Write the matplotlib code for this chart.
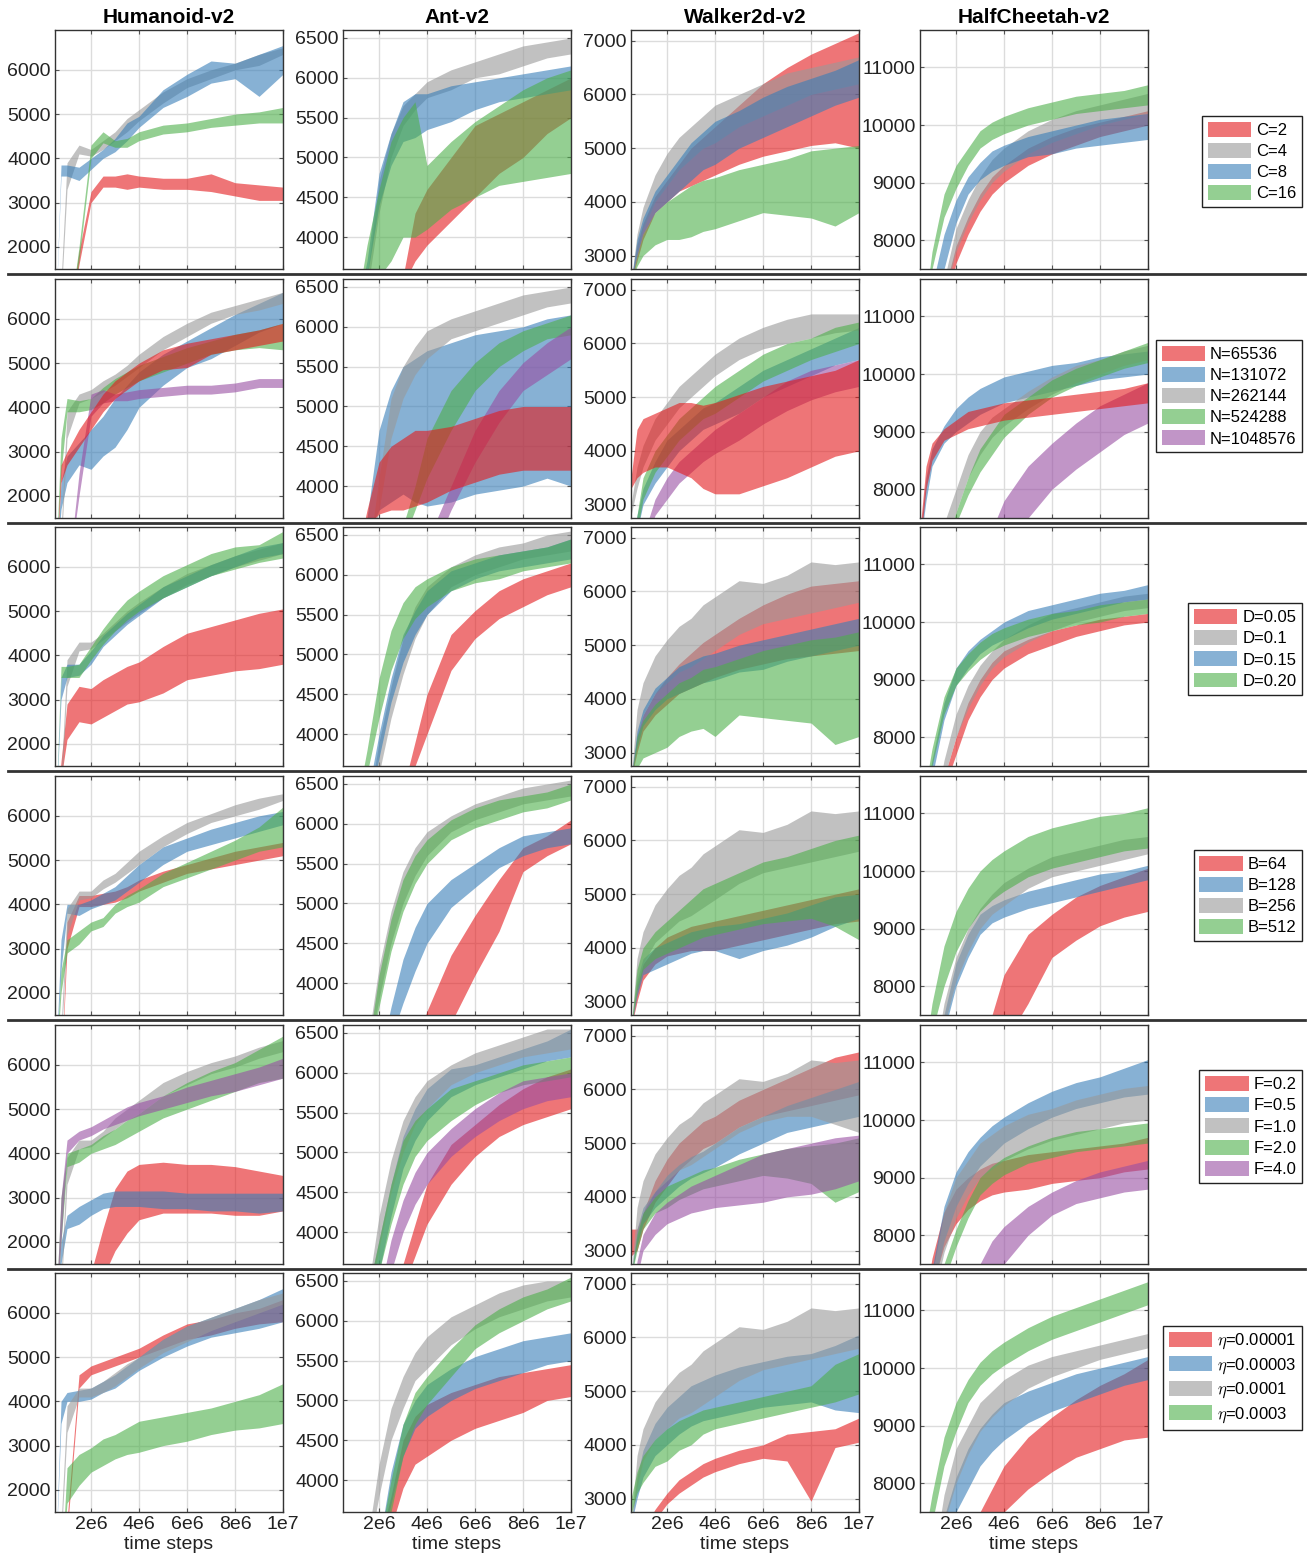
import matplotlib.pyplot as plt
from matplotlib.patches import Patch
from matplotlib.lines import Line2D

plt.rcParams['font.family'] = ['Liberation Sans', 'DejaVu Sans']
plt.rcParams['mathtext.fontset'] = 'cm'

X = [0.5e6, 0.75e6, 1e6, 1.5e6, 2e6, 2.5e6, 3e6, 3.5e6, 4e6, 5e6, 6e6, 7e6, 8e6, 9e6, 1e7]

ENVS = ['Humanoid-v2', 'Ant-v2', 'Walker2d-v2', 'HalfCheetah-v2']
YLIMS = [(1500, 6900), (3600, 6600), (2750, 7200), (7500, 11650)]
YTICKS = [[2000, 3000, 4000, 5000, 6000],
          [4000, 4500, 5000, 5500, 6000, 6500],
          [3000, 4000, 5000, 6000, 7000],
          [8000, 9000, 10000, 11000]]
XTICKS = [2e6, 4e6, 6e6, 8e6, 1e7]
XTICKLABELS = ['2e6', '4e6', '6e6', '8e6', '1e7']

RED, BLUE, GREEN, PURPLE, GRAY = '#e41a1c', '#377eb8', '#4daf4a', '#984ea3', '#999999'

# ---------------- row 1: C ----------------
c_labels = ['C=2', 'C=4', 'C=8', 'C=16']
c_colors = [RED, GRAY, BLUE, GREEN]
c_hum = {
    'C=2': ([0, 0, 0, 1600, 3000, 3350, 3350, 3300, 3350, 3300, 3300, 3250, 3150, 3050, 3050],
            [0, 0, 0, 1900, 3250, 3600, 3600, 3650, 3600, 3550, 3550, 3650, 3450, 3400, 3350]),
    'C=4': ([0, 800, 3300, 4100, 4050, 4200, 4400, 4600, 4850, 5250, 5600, 5800, 6000, 6100, 6350],
            [0, 1200, 3900, 4300, 4200, 4400, 4600, 4900, 5100, 5500, 5800, 6000, 6150, 6350, 6500]),
    'C=8': ([0, 3600, 3600, 3500, 3750, 4000, 4150, 4400, 4700, 5150, 5400, 5700, 5800, 5400, 5900],
            [0, 3850, 3850, 3800, 4000, 4200, 4450, 4800, 4950, 5550, 5900, 6200, 6150, 6350, 6550]),
    'C=16': ([0, 0, 0, 1700, 4000, 4350, 4250, 4250, 4400, 4550, 4600, 4700, 4750, 4800, 4800],
             [0, 0, 0, 2000, 4300, 4600, 4400, 4450, 4600, 4750, 4800, 4900, 5000, 5050, 5150]),
}
c_ant = {
    'C=2': ([3000, 3000, 3000, 3000, 3000, 3000, 3400, 3700, 3900, 4200, 4500, 4800, 5000, 5300, 5500],
            [3000, 3000, 3000, 3000, 3000, 3000, 3500, 4300, 4600, 5000, 5400, 5550, 5700, 5850, 6000]),
    'C=4': ([3000, 3000, 3000, 3300, 4300, 5000, 5400, 5600, 5750, 5850, 6000, 6050, 6150, 6250, 6300],
            [3000, 3000, 3000, 3500, 4700, 5300, 5650, 5800, 5950, 6100, 6200, 6300, 6400, 6450, 6500]),
    'C=8': ([3000, 3000, 3000, 3500, 4400, 4900, 5200, 5250, 5350, 5450, 5600, 5700, 5750, 5800, 5850],
            [3000, 3000, 3000, 3700, 4800, 5300, 5700, 5800, 5800, 5900, 5950, 6000, 6050, 6100, 6150]),
    'C=16': ([3000, 3000, 3000, 3300, 3500, 3700, 4000, 4000, 4100, 4350, 4500, 4650, 4700, 4750, 4800],
             [3000, 3000, 3000, 3900, 4600, 5200, 5500, 5700, 4900, 5200, 5450, 5650, 5850, 6000, 6100]),
}
c_walk = {
    'C=2': ([2500, 2900, 3300, 3800, 4000, 4200, 4300, 4400, 4500, 4700, 4850, 4950, 5050, 5100, 5000],
            [2500, 3200, 3600, 4100, 4400, 4700, 5000, 5200, 5400, 5800, 6200, 6500, 6750, 6950, 7150]),
    'C=4': ([2500, 3000, 3500, 4000, 4300, 4600, 4800, 5000, 5100, 5400, 5600, 5800, 6000, 6100, 6200],
            [2500, 3400, 3900, 4500, 4900, 5200, 5400, 5600, 5800, 6000, 6200, 6400, 6500, 6600, 6700]),
    'C=8': ([2500, 3000, 3400, 3800, 4000, 4200, 4400, 4600, 4700, 5000, 5200, 5400, 5600, 5800, 5950],
            [2500, 3300, 3700, 4200, 4500, 4800, 5100, 5300, 5500, 5700, 5950, 6150, 6300, 6450, 6650]),
    'C=16': ([2500, 2800, 3000, 3200, 3300, 3300, 3350, 3450, 3500, 3650, 3800, 3750, 3700, 3550, 3800],
             [2500, 3000, 3400, 3800, 4000, 4150, 4300, 4400, 4450, 4600, 4700, 4800, 4950, 5000, 5050]),
}
c_cheet = {
    'C=2': ([6000, 6000, 6000, 6800, 7600, 8100, 8500, 8800, 9000, 9300, 9500, 9650, 9800, 9900, 10000],
            [6000, 6000, 6000, 7100, 7900, 8400, 8800, 9100, 9300, 9600, 9800, 9950, 10050, 10150, 10250]),
    'C=4': ([6000, 6000, 6000, 7000, 7800, 8300, 8700, 9000, 9200, 9500, 9700, 9850, 10000, 10100, 10200],
            [6000, 6000, 6200, 7300, 8200, 8700, 9100, 9400, 9600, 9900, 10100, 10250, 10350, 10450, 10550]),
    'C=8': ([6000, 6000, 6500, 7500, 8300, 8800, 9050, 9200, 9300, 9450, 9500, 9600, 9650, 9700, 9750],
            [6000, 6500, 7200, 8100, 8700, 9100, 9350, 9550, 9650, 9800, 9900, 10000, 10100, 10150, 10200]),
    'C=16': ([6000, 6800, 7500, 8400, 8900, 9300, 9600, 9750, 9850, 10000, 10100, 10200, 10250, 10300, 10350],
             [6000, 7000, 7800, 8800, 9300, 9600, 9900, 10050, 10150, 10300, 10400, 10500, 10550, 10600, 10700]),
}

# ---------------- row 2: N ----------------
n_labels = ['N=65536', 'N=131072', 'N=262144', 'N=524288', 'N=1048576']
n_colors = [RED, BLUE, GRAY, GREEN, PURPLE]
n_hum = {
    'N=65536': ([0, 2300, 2700, 3100, 3500, 3900, 4200, 4400, 4600, 4850, 4900, 5200, 5300, 5400, 5500],
                [0, 2700, 3000, 3500, 3900, 4300, 4600, 4800, 5000, 5300, 5450, 5550, 5650, 5750, 5900]),
    'N=131072': ([0, 1700, 2300, 2700, 2600, 2900, 3100, 3500, 4000, 4500, 4900, 5100, 5400, 5700, 5900],
                 [0, 2300, 2900, 3200, 3500, 3800, 4200, 4500, 4800, 5200, 5500, 5800, 6100, 6350, 6600]),
    'N=262144': ([0, 800, 3300, 4100, 4200, 4350, 4500, 4700, 4900, 5300, 5600, 5900, 6100, 6200, 6350],
                 [0, 1200, 3900, 4300, 4400, 4600, 4750, 4950, 5200, 5600, 5900, 6150, 6300, 6450, 6600]),
    'N=524288': ([0, 2500, 3900, 3900, 3950, 4100, 4300, 4450, 4600, 4800, 5000, 5200, 5300, 5350, 5300],
                 [0, 3300, 4200, 4150, 4200, 4450, 4650, 4800, 4950, 5150, 5350, 5500, 5650, 5750, 5900]),
    'N=1048576': ([0, 0, 0, 2000, 3800, 4100, 4150, 4150, 4200, 4250, 4300, 4300, 4350, 4450, 4450],
                  [0, 0, 0, 2500, 4300, 4400, 4300, 4350, 4400, 4450, 4500, 4500, 4550, 4650, 4650]),
}
n_ant = {
    'N=65536': ([3000, 3000, 3000, 3500, 3650, 3700, 3700, 3750, 3800, 3950, 4050, 4150, 4200, 4200, 4200],
                [3000, 3000, 3000, 3700, 4300, 4500, 4600, 4700, 4700, 4750, 4850, 4950, 5000, 5000, 5000]),
    'N=131072': ([3000, 3000, 3000, 3400, 3700, 3800, 3900, 3800, 3750, 3800, 3900, 3950, 4000, 4100, 4000],
                 [3000, 3000, 3000, 3600, 4700, 5200, 5500, 5600, 5700, 5800, 5900, 5950, 6000, 6100, 6150]),
    'N=262144': ([3000, 3000, 3000, 3000, 3700, 4600, 5100, 5400, 5600, 5850, 5950, 6050, 6150, 6250, 6300],
                 [3000, 3000, 3000, 3000, 4100, 5100, 5500, 5750, 5950, 6100, 6200, 6300, 6400, 6450, 6500]),
    'N=524288': ([3000, 3000, 3000, 3000, 3000, 3000, 3300, 3700, 4100, 4700, 5200, 5500, 5700, 5850, 5900],
                 [3000, 3000, 3000, 3000, 3000, 3000, 3500, 4000, 4600, 5200, 5550, 5800, 5950, 6050, 6150]),
    'N=1048576': ([3000, 3000, 3000, 3000, 3000, 3000, 3000, 3000, 3000, 3700, 4300, 4800, 5200, 5400, 5600],
                  [3000, 3000, 3000, 3000, 3000, 3000, 3000, 3000, 3300, 4000, 4700, 5200, 5550, 5800, 6000]),
}
n_walk = {
    'N=65536': ([3300, 3500, 3600, 3700, 3700, 3600, 3500, 3300, 3200, 3200, 3350, 3500, 3700, 3900, 4000],
                [3500, 4400, 4600, 4700, 4800, 4900, 4900, 4850, 4900, 5050, 5200, 5300, 5400, 5500, 5700]),
    'N=131072': ([2000, 2500, 3000, 3400, 3700, 4000, 4200, 4400, 4500, 4700, 5000, 5200, 5400, 5600, 5700],
                 [2000, 2800, 3300, 3800, 4200, 4400, 4600, 4800, 4900, 5200, 5500, 5700, 5900, 6100, 6300]),
    'N=262144': ([2800, 3300, 3700, 4200, 4500, 4800, 5000, 5200, 5400, 5700, 5900, 6000, 6100, 6200, 6250],
                 [3000, 3700, 4100, 4600, 4900, 5200, 5400, 5600, 5800, 6100, 6300, 6450, 6550, 6550, 6550]),
    'N=524288': ([2000, 2500, 3100, 3600, 3900, 4200, 4400, 4600, 4700, 5000, 5300, 5500, 5700, 5850, 6000],
                 [2000, 2800, 3500, 4000, 4300, 4600, 4800, 5000, 5200, 5500, 5800, 6000, 6100, 6300, 6400]),
    'N=1048576': ([2000, 2000, 2200, 2800, 3100, 3400, 3600, 3800, 3950, 4200, 4500, 4750, 4950, 5100, 5200],
                  [2000, 2000, 2400, 3100, 3500, 3800, 4000, 4200, 4400, 4700, 5000, 5300, 5500, 5600, 5700]),
}
n_cheet = {
    'N=65536': ([7000, 8000, 8500, 8850, 8950, 9050, 9100, 9150, 9200, 9250, 9300, 9350, 9400, 9450, 9500],
                [7300, 8400, 8800, 9050, 9200, 9350, 9400, 9450, 9500, 9550, 9600, 9650, 9700, 9750, 9850]),
    'N=131072': ([7000, 7800, 8400, 8800, 9000, 9150, 9300, 9400, 9500, 9600, 9700, 9800, 9900, 9950, 10000],
                 [7200, 8200, 8700, 9100, 9400, 9600, 9750, 9850, 9950, 10050, 10150, 10200, 10300, 10350, 10400]),
    'N=262144': ([6500, 6500, 6500, 7000, 7600, 8200, 8600, 8900, 9100, 9400, 9650, 9850, 10000, 10150, 10250],
                 [6500, 6500, 6500, 7400, 8000, 8600, 9000, 9250, 9400, 9700, 9950, 10150, 10250, 10400, 10500]),
    'N=524288': ([6500, 6500, 6500, 6800, 7400, 7900, 8300, 8600, 8900, 9300, 9600, 9800, 9950, 10100, 10200],
                 [6500, 6500, 6500, 7000, 7600, 8200, 8700, 9000, 9300, 9600, 9900, 10100, 10250, 10400, 10550]),
    'N=1048576': ([6000, 6000, 6000, 6000, 6000, 6000, 6000, 6500, 7000, 7500, 8000, 8350, 8650, 8950, 9150],
                  [6000, 6000, 6000, 6000, 6000, 6000, 6000, 7300, 7800, 8400, 8800, 9150, 9450, 9650, 9850]),
}

# ---------------- row 3: D ----------------
d_labels = ['D=0.05', 'D=0.1', 'D=0.15', 'D=0.20']
d_colors = [RED, GRAY, BLUE, GREEN]
d_hum = {
    'D=0.05': ([0, 1200, 2100, 2500, 2450, 2600, 2750, 2900, 2950, 3150, 3450, 3550, 3650, 3700, 3800],
               [0, 1600, 2900, 3300, 3250, 3450, 3600, 3750, 3850, 4200, 4500, 4650, 4800, 4950, 5050]),
    'D=0.1': ([0, 800, 3300, 4100, 4150, 4350, 4550, 4750, 4950, 5300, 5600, 5800, 6000, 6150, 6300],
              [0, 1200, 3900, 4300, 4300, 4500, 4750, 5000, 5200, 5550, 5850, 6050, 6250, 6400, 6550]),
    'D=0.15': ([0, 3000, 3500, 3550, 3800, 4200, 4450, 4700, 4900, 5300, 5550, 5800, 6000, 6200, 6300],
               [0, 3500, 3800, 3800, 4100, 4450, 4700, 4950, 5150, 5550, 5800, 6050, 6250, 6450, 6550]),
    'D=0.20': ([0, 3500, 3500, 3500, 3900, 4250, 4550, 4800, 5000, 5300, 5550, 5800, 5950, 6100, 6200],
               [0, 3750, 3750, 3800, 4200, 4600, 4950, 5250, 5450, 5800, 6050, 6300, 6450, 6500, 6800]),
}
d_ant = {
    'D=0.05': ([3000, 3000, 3000, 3000, 3000, 3000, 3100, 3600, 4000, 4800, 5200, 5450, 5600, 5750, 5850],
               [3000, 3000, 3000, 3000, 3000, 3000, 3300, 3900, 4500, 5250, 5550, 5800, 5950, 6050, 6150]),
    'D=0.1': ([3000, 3000, 3000, 3000, 3500, 4200, 4750, 5200, 5500, 5850, 6000, 6100, 6200, 6250, 6300],
              [3000, 3000, 3000, 3000, 3900, 4600, 5200, 5600, 5850, 6100, 6250, 6350, 6400, 6500, 6550]),
    'D=0.15': ([3000, 3000, 3000, 3000, 3700, 4400, 4900, 5250, 5500, 5800, 5950, 6050, 6100, 6150, 6200],
               [3000, 3000, 3000, 3200, 4000, 4700, 5250, 5550, 5800, 6050, 6150, 6250, 6300, 6350, 6450]),
    'D=0.20': ([3000, 3000, 3000, 3500, 4200, 4800, 5200, 5450, 5600, 5800, 5900, 5950, 6050, 6100, 6150],
               [3000, 3000, 3000, 3800, 4700, 5300, 5650, 5850, 5950, 6100, 6200, 6250, 6300, 6350, 6450]),
}
d_walk = {
    'D=0.05': ([2500, 3000, 3400, 3700, 3900, 4100, 4200, 4300, 4400, 4550, 4650, 4750, 4800, 4850, 4900],
               [2500, 3300, 3700, 4100, 4400, 4650, 4850, 5050, 5200, 5500, 5750, 5950, 6100, 6150, 6200]),
    'D=0.1': ([2500, 3200, 3700, 4100, 4300, 4500, 4600, 4750, 4900, 5200, 5400, 5500, 5600, 5700, 5800],
              [2500, 3800, 4300, 4800, 5100, 5350, 5500, 5750, 5900, 6200, 6150, 6300, 6550, 6500, 6550]),
    'D=0.15': ([2500, 3100, 3500, 3800, 4000, 4100, 4200, 4300, 4350, 4500, 4550, 4700, 4800, 4900, 5000],
               [2500, 3400, 3800, 4200, 4400, 4600, 4700, 4800, 4850, 5000, 5100, 5200, 5300, 5400, 5500]),
    'D=0.20': ([2500, 2700, 2900, 3000, 3100, 3300, 3400, 3450, 3300, 3700, 3650, 3600, 3550, 3150, 3300],
               [2500, 3300, 3600, 3900, 4100, 4300, 4400, 4550, 4600, 4750, 4900, 5000, 5100, 5150, 5250]),
}
d_cheet = {
    'D=0.05': ([6500, 6500, 6500, 7100, 7700, 8300, 8700, 9000, 9200, 9450, 9600, 9750, 9850, 9950, 10000],
               [6500, 6500, 6500, 7300, 8000, 8600, 9000, 9300, 9500, 9700, 9850, 9950, 10050, 10100, 10150]),
    'D=0.1': ([6500, 6500, 6500, 7300, 8000, 8500, 8900, 9200, 9400, 9650, 9850, 10000, 10100, 10200, 10250],
              [6500, 6500, 6500, 7600, 8400, 8900, 9250, 9500, 9700, 9950, 10150, 10250, 10350, 10450, 10500]),
    'D=0.15': ([6500, 6800, 7300, 8300, 8900, 9200, 9450, 9600, 9700, 9900, 10050, 10150, 10250, 10350, 10400],
               [6500, 7000, 7600, 8600, 9200, 9500, 9700, 9850, 10000, 10200, 10300, 10400, 10500, 10550, 10650]),
    'D=0.20': ([6500, 7000, 7500, 8400, 8900, 9150, 9350, 9500, 9600, 9750, 9850, 9950, 10000, 10100, 10150],
               [6500, 7200, 7800, 8700, 9200, 9450, 9650, 9800, 9900, 10050, 10150, 10200, 10300, 10350, 10400]),
}

# ---------------- row 4: B ----------------
b_labels = ['B=64', 'B=128', 'B=256', 'B=512']
b_colors = [RED, BLUE, GRAY, GREEN]
b_hum = {
    'B=64': ([0, 0, 3000, 3950, 3950, 4000, 4050, 4150, 4300, 4500, 4700, 4800, 4900, 5000, 5100],
             [0, 0, 3600, 4200, 4200, 4250, 4300, 4400, 4550, 4750, 4900, 5050, 5200, 5300, 5400]),
    'B=128': ([0, 2500, 3800, 3750, 3900, 4000, 4100, 4300, 4500, 4900, 5200, 5350, 5500, 5650, 5800],
              [0, 3200, 4000, 4000, 4100, 4250, 4400, 4650, 4900, 5300, 5500, 5700, 5850, 6000, 6100]),
    'B=256': ([0, 800, 3300, 4100, 4150, 4350, 4500, 4700, 4900, 5300, 5600, 5850, 6000, 6150, 6350],
              [0, 1200, 3900, 4300, 4300, 4550, 4700, 4950, 5200, 5550, 5850, 6050, 6250, 6400, 6500]),
    'B=512': ([0, 2000, 2900, 3100, 3400, 3500, 3800, 3950, 4050, 4400, 4600, 4800, 5000, 5200, 5300],
              [0, 2500, 3200, 3400, 3600, 3700, 4000, 4200, 4350, 4700, 4950, 5200, 5450, 5750, 6200]),
}
b_ant = {
    'B=64': ([3000, 3000, 3000, 3000, 3000, 3000, 3000, 3000, 3100, 3500, 4100, 4650, 5400, 5600, 5750],
             [3000, 3000, 3000, 3000, 3000, 3000, 3000, 3200, 3650, 4350, 4850, 5300, 5700, 5850, 6050]),
    'B=128': ([3000, 3000, 3000, 3000, 3000, 3300, 3750, 4150, 4500, 4950, 5200, 5450, 5600, 5700, 5750],
              [3000, 3000, 3000, 3000, 3000, 3700, 4300, 4700, 5000, 5300, 5500, 5700, 5850, 5900, 5950]),
    'B=256': ([3000, 3000, 3000, 3000, 3800, 4500, 5000, 5350, 5600, 5900, 6050, 6150, 6250, 6300, 6350],
              [3000, 3000, 3000, 3200, 4200, 4900, 5400, 5700, 5900, 6100, 6250, 6350, 6450, 6500, 6550]),
    'B=512': ([3000, 3000, 3000, 3000, 3700, 4400, 4900, 5250, 5500, 5800, 5950, 6050, 6150, 6200, 6300],
              [3000, 3000, 3000, 3100, 4100, 4800, 5300, 5600, 5800, 6050, 6200, 6300, 6350, 6400, 6500]),
}
b_walk = {
    'B=64': ([2500, 3000, 3400, 3700, 3850, 3900, 3950, 3950, 3950, 4050, 4150, 4250, 4350, 4450, 4500],
             [2500, 3300, 3700, 4000, 4200, 4300, 4400, 4450, 4500, 4600, 4700, 4800, 4900, 5000, 5100]),
    'B=128': ([2500, 3100, 3500, 3600, 3700, 3800, 3900, 3950, 3950, 3800, 3950, 4050, 4200, 4400, 4550],
              [2500, 3400, 3800, 4000, 4100, 4200, 4300, 4350, 4400, 4450, 4550, 4650, 4800, 4950, 5000]),
    'B=256': ([2500, 3200, 3700, 4100, 4300, 4500, 4600, 4750, 4900, 5200, 5400, 5500, 5600, 5700, 5800],
              [2500, 3800, 4300, 4800, 5100, 5350, 5500, 5750, 5900, 6200, 6150, 6300, 6550, 6500, 6550]),
    'B=512': ([2500, 3200, 3600, 3800, 3900, 4000, 4100, 4200, 4250, 4350, 4450, 4500, 4550, 4400, 4150],
              [2500, 3600, 4000, 4300, 4500, 4700, 4900, 5100, 5200, 5400, 5600, 5700, 5850, 6000, 6100]),
}
b_cheet = {
    'B=64': ([6000, 6000, 6000, 6000, 6000, 6000, 6000, 6500, 7000, 7700, 8500, 8800, 9050, 9200, 9300],
             [6000, 6000, 6000, 6000, 6000, 6000, 6800, 7500, 8200, 8900, 9250, 9550, 9750, 9900, 10050]),
    'B=128': ([6500, 6500, 6500, 7200, 8000, 8500, 8900, 9100, 9200, 9350, 9450, 9550, 9650, 9750, 9850],
              [6500, 6500, 6500, 7500, 8400, 8900, 9250, 9400, 9500, 9650, 9750, 9850, 9950, 10000, 10100]),
    'B=256': ([6500, 6500, 6500, 7300, 8100, 8600, 9000, 9250, 9400, 9700, 9900, 10000, 10100, 10200, 10300],
              [6500, 6500, 6500, 7700, 8500, 9000, 9350, 9600, 9800, 10050, 10250, 10350, 10450, 10550, 10600]),
    'B=512': ([6500, 6800, 7200, 8000, 8600, 9000, 9300, 9500, 9650, 9900, 10050, 10150, 10250, 10350, 10400],
              [6500, 7000, 7700, 8700, 9300, 9700, 10000, 10200, 10350, 10600, 10750, 10850, 10950, 11000, 11100]),
}

# ---------------- row 5: F ----------------
f_labels = ['F=0.2', 'F=0.5', 'F=1.0', 'F=2.0', 'F=4.0']
f_colors = [RED, BLUE, GRAY, GREEN, PURPLE]
f_hum = {
    'F=0.2': ([0, 0, 0, 0, 1000, 1200, 1800, 2200, 2500, 2650, 2650, 2650, 2600, 2600, 2700],
              [0, 0, 0, 0, 1300, 2300, 3200, 3600, 3750, 3800, 3750, 3750, 3700, 3600, 3500]),
    'F=0.5': ([0, 1500, 2300, 2400, 2600, 2750, 2800, 2800, 2800, 2750, 2750, 2700, 2700, 2650, 2700],
              [0, 2000, 2600, 2800, 2950, 3100, 3150, 3150, 3150, 3150, 3100, 3100, 3100, 3100, 3100]),
    'F=1.0': ([0, 800, 3300, 4100, 4150, 4350, 4550, 4750, 4900, 5300, 5550, 5800, 5950, 6150, 6300],
              [0, 1200, 3900, 4300, 4300, 4500, 4800, 5000, 5200, 5600, 5850, 6050, 6200, 6400, 6550]),
    'F=2.0': ([0, 2000, 3700, 3800, 4000, 4100, 4200, 4350, 4500, 4800, 5000, 5200, 5400, 5600, 5700],
              [0, 3000, 4000, 4100, 4200, 4400, 4550, 4750, 4900, 5300, 5600, 5850, 6050, 6350, 6650]),
    'F=4.0': ([0, 2000, 4000, 4300, 4400, 4550, 4650, 4750, 4850, 5000, 5150, 5300, 5400, 5550, 5700],
              [0, 3000, 4300, 4500, 4600, 4750, 4900, 5050, 5150, 5300, 5500, 5650, 5800, 5950, 6150]),
}
f_ant = {
    'F=0.2': ([3000, 3000, 3000, 3000, 3000, 3000, 3300, 3700, 4100, 4600, 4950, 5200, 5350, 5450, 5550],
              [3000, 3000, 3000, 3000, 3000, 3000, 3600, 4100, 4600, 5100, 5350, 5600, 5800, 5950, 6050]),
    'F=0.5': ([3000, 3000, 3000, 3000, 3500, 4200, 4800, 5150, 5400, 5700, 5850, 5950, 6050, 6150, 6200],
              [3000, 3000, 3000, 3200, 3900, 4600, 5200, 5550, 5800, 6050, 6100, 6200, 6300, 6400, 6550]),
    'F=1.0': ([3000, 3000, 3000, 3000, 3800, 4500, 5000, 5350, 5550, 5850, 6000, 6100, 6200, 6250, 6300],
              [3000, 3000, 3000, 3200, 4200, 4900, 5400, 5700, 5900, 6100, 6250, 6350, 6450, 6550, 6550]),
    'F=2.0': ([3000, 3000, 3000, 3000, 3500, 4100, 4600, 4950, 5150, 5400, 5600, 5750, 5850, 5900, 5950],
              [3000, 3000, 3000, 3200, 3900, 4600, 5150, 5400, 5550, 5800, 5900, 6000, 6100, 6150, 6200]),
    'F=4.0': ([3000, 3000, 3000, 3000, 3000, 3500, 4000, 4350, 4600, 4950, 5200, 5400, 5550, 5650, 5700],
              [3000, 3000, 3000, 3000, 3200, 3900, 4400, 4750, 5000, 5300, 5550, 5750, 5900, 5950, 6000]),
}
f_walk = {
    'F=0.2': ([2900, 3000, 3400, 3900, 4200, 4500, 4700, 4900, 5000, 5300, 5500, 5600, 5700, 5800, 5900],
              [3400, 3400, 3700, 4300, 4700, 5000, 5200, 5400, 5500, 5800, 6000, 6200, 6400, 6600, 6700]),
    'F=0.5': ([2500, 3100, 3500, 3800, 4000, 4200, 4350, 4450, 4550, 4800, 5000, 5200, 5300, 5400, 5500],
              [2500, 3400, 3800, 4100, 4400, 4600, 4750, 4850, 5000, 5300, 5500, 5700, 5850, 6000, 6150]),
    'F=1.0': ([2500, 3200, 3700, 4100, 4300, 4500, 4600, 4750, 4900, 5200, 5400, 5500, 5500, 5350, 5200],
              [2500, 3800, 4300, 4800, 5100, 5350, 5500, 5750, 5900, 6200, 6150, 6300, 6550, 6500, 6550]),
    'F=2.0': ([2500, 3000, 3400, 3700, 3800, 3950, 4050, 4150, 4200, 4300, 4400, 4350, 4250, 3900, 4100],
              [2500, 3300, 3700, 4000, 4200, 4300, 4400, 4500, 4550, 4700, 4800, 4900, 4950, 5000, 5100]),
    'F=4.0': ([2000, 2500, 3000, 3300, 3500, 3600, 3700, 3750, 3800, 3850, 3900, 4000, 4050, 4150, 4300],
              [2000, 2800, 3300, 3700, 3900, 4050, 4200, 4300, 4400, 4600, 4800, 4900, 5000, 5100, 5150]),
}
f_cheet = {
    'F=0.2': ([6500, 6700, 7100, 7800, 8200, 8450, 8600, 8700, 8750, 8800, 8900, 8950, 9000, 9100, 9150],
              [6500, 7000, 7600, 8400, 8800, 9000, 9150, 9250, 9300, 9400, 9450, 9500, 9550, 9600, 9700]),
    'F=0.5': ([6500, 6600, 7000, 7900, 8500, 8900, 9200, 9400, 9600, 9850, 10050, 10200, 10300, 10400, 10450],
              [6500, 6800, 7400, 8500, 9100, 9450, 9700, 9900, 10050, 10300, 10500, 10650, 10750, 10900, 11050]),
    'F=1.0': ([6500, 6500, 6800, 7700, 8300, 8700, 9000, 9150, 9300, 9500, 9650, 9750, 9850, 9950, 10000],
              [6500, 6700, 7300, 8400, 9000, 9300, 9600, 9750, 9900, 10100, 10200, 10350, 10450, 10550, 10600]),
    'F=2.0': ([6500, 6500, 6500, 7200, 7800, 8300, 8700, 8900, 9050, 9250, 9350, 9450, 9500, 9550, 9600],
              [6500, 6500, 6800, 7500, 8100, 8600, 9000, 9200, 9350, 9550, 9700, 9800, 9850, 9900, 9950]),
    'F=4.0': ([6000, 6000, 6000, 6000, 6000, 6000, 6800, 7200, 7500, 8000, 8350, 8550, 8650, 8750, 8800],
              [6000, 6000, 6000, 6000, 6000, 7000, 7500, 7900, 8150, 8500, 8750, 8950, 9100, 9200, 9300]),
}

# ---------------- row 6: eta ----------------
e_labels = [r'$\eta$=0.00001', r'$\eta$=0.00003', r'$\eta$=0.0001', r'$\eta$=0.0003']
e_colors = [RED, BLUE, GRAY, GREEN]
e_hum = {
    e_labels[0]: ([0, 0, 1000, 4300, 4600, 4700, 4800, 4900, 5000, 5200, 5400, 5500, 5650, 5750, 5800],
                  [0, 0, 1300, 4600, 4800, 4900, 5000, 5100, 5200, 5500, 5750, 5850, 6000, 6100, 6300]),
    e_labels[1]: ([0, 3500, 4000, 4000, 4050, 4200, 4300, 4500, 4700, 5000, 5250, 5450, 5550, 5650, 5800],
                  [0, 4000, 4200, 4250, 4300, 4450, 4600, 4800, 5000, 5400, 5700, 5900, 6100, 6300, 6550]),
    e_labels[2]: ([0, 800, 3300, 4100, 4100, 4200, 4350, 4550, 4750, 5100, 5350, 5600, 5800, 6000, 6200],
                  [0, 1200, 3900, 4300, 4300, 4450, 4650, 4850, 5000, 5400, 5700, 5900, 6100, 6300, 6450]),
    e_labels[3]: ([0, 0, 1700, 2100, 2400, 2550, 2700, 2800, 2850, 3000, 3100, 3250, 3350, 3400, 3500],
                  [0, 0, 2500, 2800, 2950, 3150, 3250, 3400, 3550, 3650, 3750, 3850, 4000, 4150, 4400]),
}
e_ant = {
    e_labels[0]: ([3000, 3000, 3000, 3000, 3000, 3400, 3900, 4200, 4300, 4500, 4650, 4750, 4850, 5000, 5050],
                  [3000, 3000, 3000, 3000, 3200, 3800, 4500, 4800, 4950, 5100, 5200, 5300, 5350, 5400, 5450]),
    e_labels[1]: ([3000, 3000, 3000, 3000, 3000, 3700, 4300, 4650, 4800, 5000, 5150, 5250, 5350, 5450, 5500],
                  [3000, 3000, 3000, 3000, 3200, 4100, 4700, 5000, 5200, 5400, 5550, 5650, 5750, 5800, 5850]),
    e_labels[2]: ([3000, 3000, 3000, 3000, 3800, 4500, 4900, 5250, 5400, 5700, 5900, 6050, 6150, 6250, 6300],
                  [3000, 3000, 3000, 3200, 4200, 4900, 5300, 5600, 5800, 6050, 6200, 6350, 6450, 6500, 6500]),
    e_labels[3]: ([3000, 3000, 3000, 3000, 3000, 3600, 4300, 4700, 4950, 5300, 5650, 5850, 6000, 6150, 6250],
                  [3000, 3000, 3000, 3000, 3200, 4000, 4700, 5100, 5300, 5650, 5950, 6150, 6300, 6400, 6550]),
}
e_walk = {
    e_labels[0]: ([2000, 2000, 2200, 2600, 2900, 3100, 3250, 3400, 3500, 3650, 3750, 3700, 2950, 3950, 4050],
                  [2000, 2200, 2400, 2800, 3100, 3350, 3500, 3650, 3750, 3900, 4000, 4200, 4250, 4300, 4500]),
    e_labels[1]: ([2500, 3000, 3400, 3800, 4000, 4200, 4350, 4450, 4500, 4600, 4700, 4750, 4800, 4650, 4600],
                  [2500, 3400, 3900, 4400, 4700, 4900, 5100, 5200, 5300, 5450, 5550, 5650, 5700, 5850, 6050]),
    e_labels[2]: ([2500, 3200, 3700, 4100, 4300, 4500, 4600, 4750, 4900, 5200, 5400, 5500, 5600, 5700, 5800],
                  [2500, 3800, 4300, 4800, 5100, 5350, 5500, 5750, 5900, 6200, 6150, 6300, 6550, 6500, 6550]),
    e_labels[3]: ([2700, 3100, 3300, 3600, 3700, 3900, 4000, 4200, 4300, 4400, 4500, 4600, 4700, 4800, 4950],
                  [3000, 3500, 3800, 4100, 4300, 4450, 4550, 4650, 4700, 4800, 4900, 5000, 5100, 5500, 5700]),
}
e_cheet = {
    e_labels[0]: ([6000, 6000, 6000, 6000, 6000, 6000, 6600, 7100, 7500, 7900, 8200, 8450, 8600, 8750, 8800],
                  [6000, 6000, 6000, 6000, 6000, 6800, 7500, 7900, 8300, 8800, 9150, 9450, 9700, 9900, 10150]),
    e_labels[1]: ([6500, 6500, 6500, 7000, 7500, 7900, 8300, 8550, 8750, 9050, 9250, 9400, 9550, 9700, 9800],
                  [6500, 6500, 6500, 7400, 8100, 8600, 8950, 9200, 9400, 9600, 9750, 9900, 10000, 10100, 10200]),
    e_labels[2]: ([6500, 6500, 6500, 7300, 8000, 8500, 8900, 9150, 9350, 9650, 9850, 10000, 10150, 10250, 10350],
                  [6500, 6500, 6500, 7800, 8600, 9000, 9400, 9600, 9800, 10050, 10200, 10300, 10400, 10500, 10600]),
    e_labels[3]: ([6500, 6900, 7300, 8300, 8900, 9400, 9700, 9900, 10050, 10300, 10500, 10650, 10800, 10950, 11100],
                  [6500, 7200, 7800, 8800, 9400, 9800, 10100, 10300, 10450, 10700, 10900, 11050, 11200, 11350, 11500]),
}

ROWS = [
    (c_labels, c_colors, [c_hum, c_ant, c_walk, c_cheet]),
    (n_labels, n_colors, [n_hum, n_ant, n_walk, n_cheet]),
    (d_labels, d_colors, [d_hum, d_ant, d_walk, d_cheet]),
    (b_labels, b_colors, [b_hum, b_ant, b_walk, b_cheet]),
    (f_labels, f_colors, [f_hum, f_ant, f_walk, f_cheet]),
    (e_labels, e_colors, [e_hum, e_ant, e_walk, e_cheet]),
]
# order in which the bands are stacked (indices into the legend order)
DRAW_ORDER = [[0, 1, 2, 3], [1, 2, 3, 4, 0], [0, 1, 2, 3],
              [0, 1, 2, 3], [0, 1, 2, 3, 4], [0, 1, 2, 3]]
LEGEND_Y = [0.45, 0.51, 0.49, 0.50, 0.575, 0.56]

# layout in pixels of the 1312x1560 canvas
FW, FH = 1312, 1560
COL_LEFT = [55, 343, 631, 920]
ROW_TOP = [30, 279, 527, 776, 1025, 1273]
AW, AH = 228, 239
SEPARATORS = [274, 523, 771, 1020, 1269]

fig = plt.figure(figsize=(FW / 100, FH / 100), dpi=100)

for r, (labels, colors, panels) in enumerate(ROWS):
    for c, data in enumerate(panels):
        ax = fig.add_axes([COL_LEFT[c] / FW, 1 - (ROW_TOP[r] + AH) / FH, AW / FW, AH / FH])
        for i in DRAW_ORDER[r]:
            lo, hi = data[labels[i]]
            ax.fill_between(X, lo, hi, color=colors[i], alpha=0.6, linewidth=0)
        ax.set_xlim(5e5, 1e7)
        ax.set_ylim(*YLIMS[c])
        ax.set_yticks(YTICKS[c])
        ax.set_xticks(XTICKS)
        ax.grid(True, color='#dcdcdc', linewidth=1)
        ax.set_axisbelow(True)
        for s in ax.spines.values():
            s.set_color('#333333')
            s.set_linewidth(1.0)
        ax.tick_params(direction='in', top=True, right=True, length=3,
                       color='#555555', labelsize=14, labelcolor='#222222', pad=3)
        if r == len(ROWS) - 1:
            ax.set_xticklabels(XTICKLABELS)
            ax.set_xlabel('time steps', fontsize=14, color='#222222', labelpad=2)
        else:
            ax.set_xticklabels([])
        if r == 0:
            ax.set_title(ENVS[c], fontsize=15, fontweight='bold', pad=5)
        if c == 3:
            handles = [Patch(facecolor=col, alpha=0.6, edgecolor='none') for col in colors]
            leg = ax.legend(handles, labels, loc='center right',
                            bbox_to_anchor=(1.677, LEGEND_Y[r]), fontsize=12,
                            frameon=True, fancybox=False, framealpha=1,
                            edgecolor='#222222', handlelength=2.6, handleheight=1.0,
                            handletextpad=0.3, labelspacing=0.3, borderpad=0.35,
                            borderaxespad=0)
            leg.get_frame().set_linewidth(1.0)

for y in SEPARATORS:
    fig.add_artist(Line2D([8 / FW, 1305 / FW], [1 - y / FH] * 2, color='#333333', linewidth=2))

fig.savefig('out.png', dpi=100)
